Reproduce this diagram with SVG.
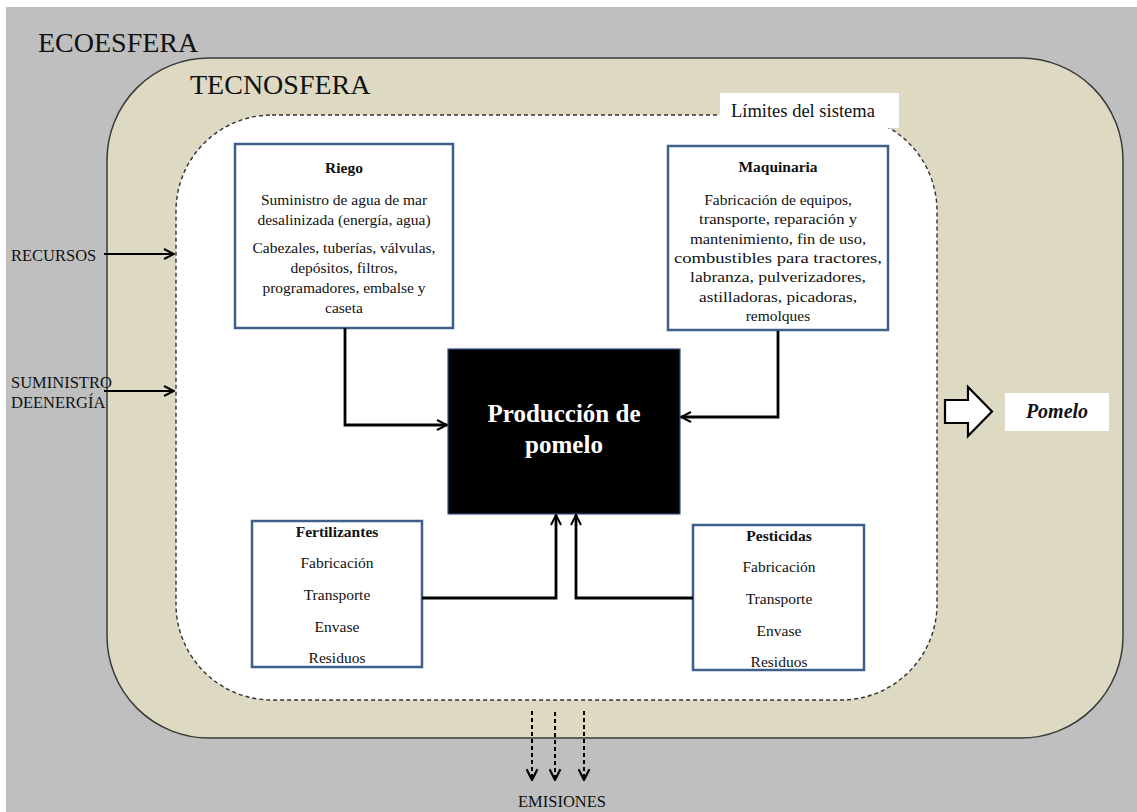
<svg xmlns="http://www.w3.org/2000/svg" width="1137" height="812" viewBox="0 0 1137 812">
<style>
.t{font-family:"Liberation Serif","Times New Roman",serif;fill:#111;}
.body{font-size:15.5px;text-anchor:middle;}
.ttl{font-size:15.5px;font-weight:bold;text-anchor:middle;}
.box{fill:#fff;stroke:#3e5f8a;stroke-width:2.5;}
.conn{fill:none;stroke:#000;stroke-width:2.8;}
.lbl{font-size:16.5px;}
</style>
<defs>
<marker id="ah" viewBox="0 0 12 12" refX="11" refY="6" markerWidth="12" markerHeight="12" markerUnits="userSpaceOnUse" orient="auto">
<path d="M1,1 L11,6 L1,11" fill="none" stroke="#000" stroke-width="2"/>
</marker>
<marker id="ah2" viewBox="0 0 12 12" refX="11" refY="6" markerWidth="13" markerHeight="13" markerUnits="userSpaceOnUse" orient="auto">
<path d="M1,1 L11,6 L1,11" fill="none" stroke="#000" stroke-width="2"/>
</marker>
</defs>
<rect x="0" y="0" width="1137" height="812" fill="#fff"/>
<rect x="6" y="7" width="1131" height="805" fill="#bfbfbf"/>
<g id="tecnosfera">
<rect x="107" y="58" width="1016" height="680" rx="102" ry="102" fill="#ddd9c3" stroke="#3a3a3a" stroke-width="1.5"/>
</g>
<g id="limites">
<rect x="176" y="115" width="761" height="585" rx="96" ry="96" fill="#fff" stroke="#333" stroke-width="1.4" stroke-dasharray="4 3"/>
<rect x="720" y="93" width="179" height="35" fill="#fff"/>
<text class="t" x="731" y="117" font-size="18.5px">Límites del sistema</text>
</g>
<text class="t" x="38" y="52" font-size="28px">ECOESFERA</text>
<text class="t" x="190" y="94" font-size="28px">TECNOSFERA</text>

<g id="riego">
<rect class="box" x="235" y="144" width="218" height="184"/>
<text class="t ttl" x="344" y="173">Riego</text>
<text class="t body" x="344" y="205">Suministro de agua de mar</text>
<text class="t body" x="344" y="225">desalinizada (energía, agua)</text>
<text class="t body" x="344" y="253">Cabezales, tuberías, válvulas,</text>
<text class="t body" x="344" y="273">depósitos, filtros,</text>
<text class="t body" x="344" y="293">programadores, embalse y</text>
<text class="t body" x="344" y="313">caseta</text>
</g>

<g id="maquinaria">
<rect class="box" x="668" y="146" width="220" height="184"/>
<text class="t ttl" x="778" y="172">Maquinaria</text>
<text class="t body" x="778" y="205">Fabricación de equipos,</text>
<text class="t body" x="778" y="224" textLength="158" lengthAdjust="spacingAndGlyphs">transporte, reparación y</text>
<text class="t body" x="778" y="244" textLength="176" lengthAdjust="spacingAndGlyphs">mantenimiento, fin de uso,</text>
<text class="t body" x="778" y="263" textLength="208" lengthAdjust="spacingAndGlyphs">combustibles para tractores,</text>
<text class="t body" x="778" y="282" textLength="176" lengthAdjust="spacingAndGlyphs">labranza, pulverizadores,</text>
<text class="t body" x="778" y="302" textLength="158" lengthAdjust="spacingAndGlyphs">astilladoras, picadoras,</text>
<text class="t body" x="778" y="321">remolques</text>
</g>

<g id="produccion">
<rect x="448" y="349" width="232" height="165" fill="#000" stroke="#2f4f7f" stroke-width="1.2"/>
<text class="t" x="564" y="422" font-size="25px" font-weight="bold" text-anchor="middle" style="fill:#fff">Producción de</text>
<text class="t" x="564" y="453" font-size="25px" font-weight="bold" text-anchor="middle" style="fill:#fff">pomelo</text>
</g>

<g id="fertilizantes">
<rect class="box" x="252" y="521" width="170" height="146"/>
<text class="t ttl" x="337" y="537">Fertilizantes</text>
<text class="t body" x="337" y="568">Fabricación</text>
<text class="t body" x="337" y="600">Transporte</text>
<text class="t body" x="337" y="632">Envase</text>
<text class="t body" x="337" y="663">Residuos</text>
</g>

<g id="pesticidas">
<rect class="box" x="693" y="525" width="171" height="145"/>
<text class="t ttl" x="779" y="541">Pesticidas</text>
<text class="t body" x="779" y="572">Fabricación</text>
<text class="t body" x="779" y="604">Transporte</text>
<text class="t body" x="779" y="636">Envase</text>
<text class="t body" x="779" y="667">Residuos</text>
</g>

<g id="pomelo">
<path d="M945,400 L968,400 L968,387 L992,411.5 L968,436 L968,423 L945,423 Z" fill="#fff" stroke="#000" stroke-width="2.2" stroke-linejoin="miter"/>
<rect x="1005" y="393" width="104" height="38" fill="#fff"/>
<text class="t" x="1057" y="418" font-size="20px" font-weight="bold" font-style="italic" text-anchor="middle">Pomelo</text>
</g>

<g id="recursos">
<text class="t lbl" x="11" y="261">RECURSOS</text>
</g>
<g id="energia">
<text class="t lbl" x="11" y="388">SUMINISTRO</text>
<text class="t lbl" x="11" y="408">DEENERGÍA</text>
</g>
<g id="emisiones">
<text class="t lbl" x="562" y="807" text-anchor="middle">EMISIONES</text>
</g>

<g id="connectors">
<path class="conn" d="M345,328 L345,425 L447,425" marker-end="url(#ah)"/>
<path class="conn" d="M778,331 L778,417 L681,417" marker-end="url(#ah)"/>
<path class="conn" d="M422,598 L556,598 L556,515" marker-end="url(#ah)"/>
<path class="conn" d="M693,598 L576,598 L576,515" marker-end="url(#ah)"/>
<path fill="none" stroke="#000" stroke-width="1.8" d="M104,254 L174,254" marker-end="url(#ah)"/>
<path fill="none" stroke="#000" stroke-width="1.8" d="M104,391 L174,391" marker-end="url(#ah)"/>
<path fill="none" stroke="#000" stroke-width="2" stroke-dasharray="4 3" d="M532,711 L532,780" marker-end="url(#ah2)"/>
<path fill="none" stroke="#000" stroke-width="2" stroke-dasharray="4 3" d="M555,712 L555,780" marker-end="url(#ah2)"/>
<path fill="none" stroke="#000" stroke-width="2" stroke-dasharray="4 3" d="M584,711 L584,780" marker-end="url(#ah2)"/>
</g>
</svg>
